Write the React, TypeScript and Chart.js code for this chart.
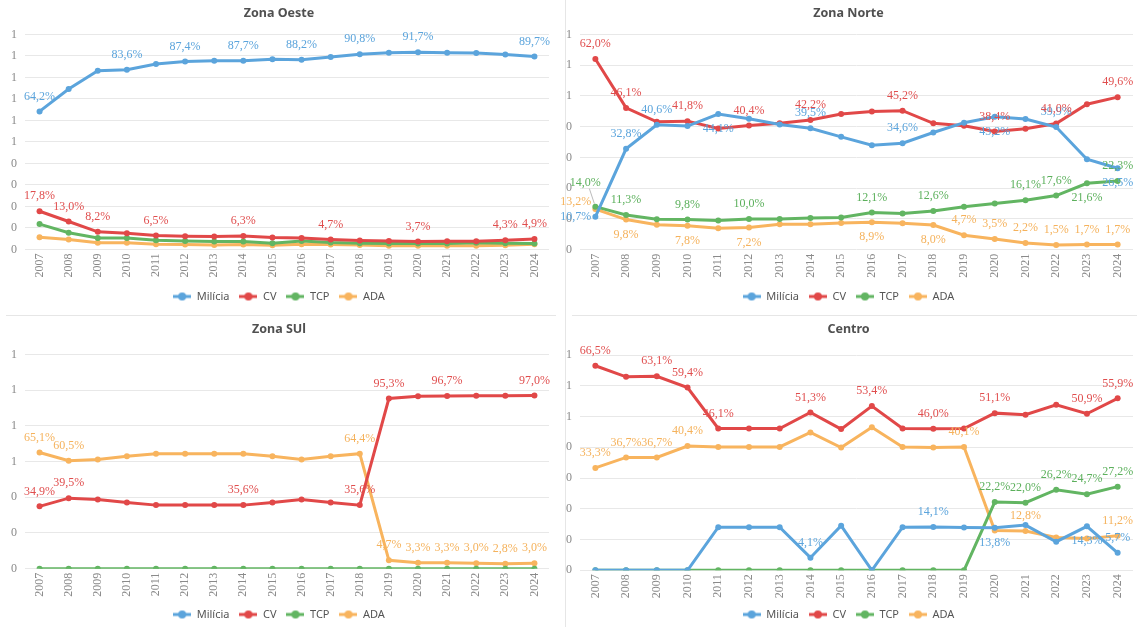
import React, { useEffect, useRef } from "react";
import { Chart, registerables } from "chart.js";

Chart.register(...registerables);

const years = ["2007","2008","2009","2010","2011","2012","2013","2014","2015","2016","2017","2018","2019","2020","2021","2022","2023","2024"];
const seriesNames = ["Milícia", "CV", "TCP", "ADA"];
const seriesColors = ["#5ba4dc", "#e14848", "#62b562", "#f8b45e"];
const labelColors = ["#5ba4dc", "#e04e4e", "#5cb05c", "#f5b25c"];

// Zona Oeste (%)
const oesteMilicia = [64.2, 74.6, 83.1, 83.6, 86.2, 87.4, 87.8, 87.7, 88.4, 88.2, 89.5, 90.8, 91.5, 91.7, 91.5, 91.4, 90.6, 89.7];
const oesteCV = [17.8, 13.0, 8.2, 7.6, 6.5, 6.2, 6.0, 6.3, 5.6, 5.3, 4.7, 4.2, 3.9, 3.7, 3.8, 3.8, 4.3, 4.9];
const oesteTCP = [11.8, 7.8, 5.4, 5.3, 4.3, 3.9, 3.7, 3.7, 2.9, 3.9, 3.2, 2.9, 2.8, 2.8, 2.8, 3.1, 2.9, 2.8];
const oesteADA = [5.7, 4.6, 3.1, 3.1, 2.4, 2.3, 2.1, 2.3, 2.0, 2.4, 2.3, 2.1, 1.8, 1.8, 1.8, 1.8, 2.0, 2.4];

// Zona Norte (%)
const norteMilicia = [10.7, 32.8, 40.6, 40.2, 44.1, 42.6, 40.7, 39.5, 36.7, 34.0, 34.6, 38.1, 41.3, 43.2, 42.5, 39.9, 29.4, 26.5];
const norteCV = [62.0, 46.1, 41.6, 41.8, 39.4, 40.4, 41.1, 42.2, 44.1, 44.9, 45.2, 41.1, 40.3, 38.4, 39.3, 41.0, 47.3, 49.6];
const norteTCP = [14.0, 11.3, 9.9, 9.8, 9.5, 10.0, 10.0, 10.3, 10.5, 12.1, 11.8, 12.6, 14.0, 15.0, 16.1, 17.6, 21.6, 22.3];
const norteADA = [13.2, 9.8, 8.1, 7.8, 7.0, 7.2, 8.3, 8.3, 8.7, 8.9, 8.6, 8.0, 4.7, 3.5, 2.2, 1.5, 1.7, 1.7];

// Zona Sul (%) — no Milícia values plotted
const sulMilicia: (number | null)[] = [null, null, null, null, null, null, null, null, null, null, null, null, null, null, null, null, null, null];
const sulCV = [34.9, 39.5, 38.8, 37.1, 35.6, 35.6, 35.6, 35.6, 37.1, 38.8, 37.1, 35.6, 95.3, 96.5, 96.7, 96.9, 96.9, 97.0];
const sulTCP = [0, 0, 0, 0, 0, 0, 0, 0, 0, 0, 0, 0, 0, 0, 0, 0, 0, 0];
const sulADA = [65.1, 60.5, 61.1, 63.0, 64.3, 64.3, 64.3, 64.3, 63.0, 61.1, 63.0, 64.4, 4.7, 3.3, 3.3, 3.0, 2.8, 3.0];

// Centro (%)
const centroMilicia = [0, 0, 0, 0, 14.0, 14.0, 14.0, 4.1, 14.5, 0, 14.0, 14.1, 13.9, 13.8, 14.7, 9.3, 14.3, 5.7];
const centroCV = [66.5, 62.9, 63.1, 59.4, 46.1, 46.1, 46.1, 51.3, 45.9, 53.4, 46.1, 46.0, 46.1, 51.1, 50.6, 53.8, 50.9, 55.9];
const centroTCP = [0, 0, 0, 0, 0, 0, 0, 0, 0, 0, 0, 0, 0, 22.2, 22.0, 26.2, 24.7, 27.2];
const centroADA = [33.3, 36.7, 36.7, 40.4, 40.1, 40.1, 40.1, 44.8, 39.9, 46.5, 40.1, 39.9, 40.1, 12.9, 12.8, 10.7, 10.3, 11.2];

// which points carry a value label, and where (a = above, b = below, special codes for crowded 2007 points)
const oesteLabels = [
  [[0, "a"], [3, "a"], [5, "a"], [7, "a"], [9, "a"], [11, "a"], [13, "a"], [17, "a"]],
  [[0, "a"], [1, "a"], [2, "a"], [4, "a"], [7, "a"], [10, "a"], [13, "a"], [16, "a"], [17, "a"]],
  [],
  [],
];
const norteLabels = [
  [[0, "L0"], [1, "a"], [2, "a"], [4, "b"], [7, "a"], [10, "a"], [13, "b"], [15, "a"], [17, "b"]],
  [[0, "a"], [1, "a"], [3, "a"], [5, "a"], [7, "a"], [10, "a"], [13, "a"], [15, "a"], [17, "a"]],
  [[0, "T0"], [1, "a"], [3, "a"], [5, "a"], [9, "a"], [11, "a"], [14, "a"], [15, "a"], [16, "b"], [17, "a"]],
  [[0, "A0"], [1, "b"], [3, "b"], [5, "b"], [9, "b"], [11, "b"], [12, "a"], [13, "a"], [14, "a"], [15, "a"], [16, "a"], [17, "a"]],
];
const sulLabels = [
  [],
  [[0, "a"], [1, "a"], [7, "a"], [11, "a"], [12, "a"], [14, "a"], [17, "a"]],
  [],
  [[0, "a"], [1, "a"], [11, "a"], [12, "a"], [13, "a"], [14, "a"], [15, "a"], [16, "a"], [17, "a"]],
];
const centroLabels = [
  [[7, "a"], [11, "a"], [13, "b"], [16, "b"], [17, "a"]],
  [[0, "a"], [2, "a"], [3, "a"], [4, "a"], [7, "a"], [9, "a"], [11, "a"], [13, "a"], [16, "a"], [17, "a"]],
  [[13, "a"], [14, "a"], [15, "a"], [16, "a"], [17, "a"]],
  [[0, "a"], [1, "a"], [2, "a"], [3, "a"], [12, "a"], [14, "a"], [17, "a"]],
];

const POS: Record<string, [number, number, CanvasTextAlign, boolean]> = {
  a: [0, -15, "center", false],
  b: [0, 15, "center", false],
  L0: [-4, 0, "right", false],
  T0: [-10, -24, "center", true],
  A0: [-4, -7, "right", false],
};

const fmt = (v: number) => v.toFixed(1).replace(".", ",") + "%";

const pointLabelPlugin = {
  id: "pointLabels",
  afterDatasetsDraw(chart: any) {
    const ctx = chart.ctx;
    ctx.save();
    ctx.font = "12px 'Liberation Serif'";
    ctx.textBaseline = "middle";
    chart.data.datasets.forEach((ds: any, di: number) => {
      const meta = chart.getDatasetMeta(di);
      (ds.labelSpec || []).forEach(([i, code]: [number, string]) => {
        const pt = meta.data[i];
        const v = ds.data[i];
        if (!pt || v == null) return;
        const [dx, dy, align, leader] = POS[code];
        if (leader) {
          ctx.strokeStyle = "#aaaaaa";
          ctx.lineWidth = 0.8;
          ctx.beginPath();
          ctx.moveTo(pt.x + dx + 4, pt.y + dy + 6);
          ctx.lineTo(pt.x - 1, pt.y - 3);
          ctx.stroke();
        }
        ctx.fillStyle = labelColors[di];
        ctx.textAlign = align;
        ctx.fillText(fmt(v), pt.x + dx, pt.y + dy);
      });
    });
    ctx.restore();
  },
};

function legendIcon(color: string) {
  const c = document.createElement("canvas");
  c.width = 18;
  c.height = 10;
  const g = c.getContext("2d")!;
  g.strokeStyle = color;
  g.lineWidth = 3;
  g.beginPath();
  g.moveTo(0, 5);
  g.lineTo(18, 5);
  g.stroke();
  g.fillStyle = color;
  g.beginPath();
  g.arc(9, 5, 4, 0, Math.PI * 2);
  g.fill();
  return c;
}

type PanelProps = {
  title: string;
  series: (number | null)[][];
  labels: any[][];
  max: number;
  step: number;
  left: number;
  top: number;
  width: number;
  height: number;
  padLeft: number;
  titleTop: number;
  titleBottom: number;
  xHeight: number;
};

function Panel(p: PanelProps) {
  const ref = useRef<HTMLCanvasElement>(null);
  useEffect(() => {
    if (!ref.current) return;
    const icons = seriesColors.map(legendIcon);
    const chart = new Chart(ref.current, {
      type: "line",
      data: {
        labels: years,
        datasets: p.series.map((d, i) => ({
          label: seriesNames[i],
          data: d,
          borderColor: seriesColors[i],
          backgroundColor: seriesColors[i],
          pointBackgroundColor: seriesColors[i],
          pointBorderColor: seriesColors[i],
          borderWidth: 3,
          pointRadius: 3,
          pointBorderWidth: 0,
          tension: 0,
          labelSpec: p.labels[i],
        })) as any,
      },
      options: {
        responsive: false,
        animation: false,
        devicePixelRatio: 1,
        layout: { padding: { left: p.padLeft, right: 0, top: 0, bottom: 0 } },
        plugins: {
          tooltip: { enabled: false },
          title: {
            display: true,
            text: p.title,
            color: "#505050",
            font: { family: "'Noto Sans'", size: 12.5, weight: "bold" },
            padding: { top: p.titleTop, bottom: p.titleBottom },
          },
          legend: {
            position: "bottom",
            labels: {
              usePointStyle: true,
              pointStyleWidth: 18,
              boxHeight: 11,
              padding: 10,
              color: "#555555",
              font: { family: "'Noto Sans'", size: 11 },
              generateLabels: (ch: any) =>
                ch.data.datasets.map((ds: any, i: number) => ({
                  text: ds.label,
                  pointStyle: icons[i],
                  fillStyle: seriesColors[i],
                  strokeStyle: seriesColors[i],
                  lineWidth: 0,
                  hidden: false,
                  datasetIndex: i,
                  fontColor: "#555555",
                })),
            },
          },
        },
        scales: {
          x: {
            type: "category",
            offset: true,
            grid: { display: false, drawTicks: false },
            border: { display: false },
            ticks: {
              minRotation: 90,
              maxRotation: 90,
              autoSkip: false,
              padding: 4,
              color: "#8a8a8a",
              font: { family: "'Liberation Serif'", size: 12 },
            },
            afterFit: (s: any) => {
              s.height = p.xHeight;
            },
          },
          y: {
            min: 0,
            max: p.max,
            grid: { color: "#e8e8e8", drawTicks: false, lineWidth: 1 },
            border: { display: false },
            ticks: {
              stepSize: p.step,
              padding: 8,
              color: "#8a8a8a",
              font: { family: "'Liberation Serif'", size: 12 },
              callback: (v: any) => String(Math.round(Number(v) / 100)),
            },
            afterFit: (s: any) => {
              s.width = 20;
            },
          },
        },
      },
      plugins: [pointLabelPlugin],
    });
    return () => chart.destroy();
  }, []);
  return (
    <canvas
      ref={ref}
      width={p.width}
      height={p.height}
      style={{ position: "absolute", left: p.left, top: p.top, width: p.width, height: p.height }}
    />
  );
}

export default function App() {
  return (
    <div
      style={{
        position: "fixed",
        left: 0,
        top: 0,
        width: 1145,
        height: 627,
        overflow: "hidden",
        background: "#ffffff",
      }}
    >
      <div style={{ position: "absolute", left: 565, top: 0, width: 1, height: 627, background: "#e6e6e6" }} />
      <div style={{ position: "absolute", left: 6, top: 315, width: 550, height: 1, background: "#e6e6e6" }} />
      <div style={{ position: "absolute", left: 572, top: 315, width: 565, height: 1, background: "#e6e6e6" }} />
      <Panel title="Zona Oeste" series={[oesteMilicia, oesteCV, oesteTCP, oesteADA]} labels={oesteLabels}
        max={100} step={10} left={0} top={0} width={553} height={312} padLeft={5}
        titleTop={6} titleBottom={13.4} xHeight={31.5} />
      <Panel title="Zona Norte" series={[norteMilicia, norteCV, norteTCP, norteADA]} labels={norteLabels}
        max={70} step={10} left={560} top={0} width={577} height={312} padLeft={0}
        titleTop={6} titleBottom={13.4} xHeight={31.3} />
      <Panel title="Zona SUl" series={[sulMilicia, sulCV, sulTCP, sulADA]} labels={sulLabels}
        max={120} step={20} left={0} top={318} width={553} height={312} padLeft={5}
        titleTop={4} titleBottom={17.4} xHeight={30.3} />
      <Panel title="Centro" series={[centroMilicia, centroCV, centroTCP, centroADA]} labels={centroLabels}
        max={70} step={10} left={560} top={318} width={577} height={312} padLeft={0}
        titleTop={4} titleBottom={18} xHeight={28.7} />
    </div>
  );
}
